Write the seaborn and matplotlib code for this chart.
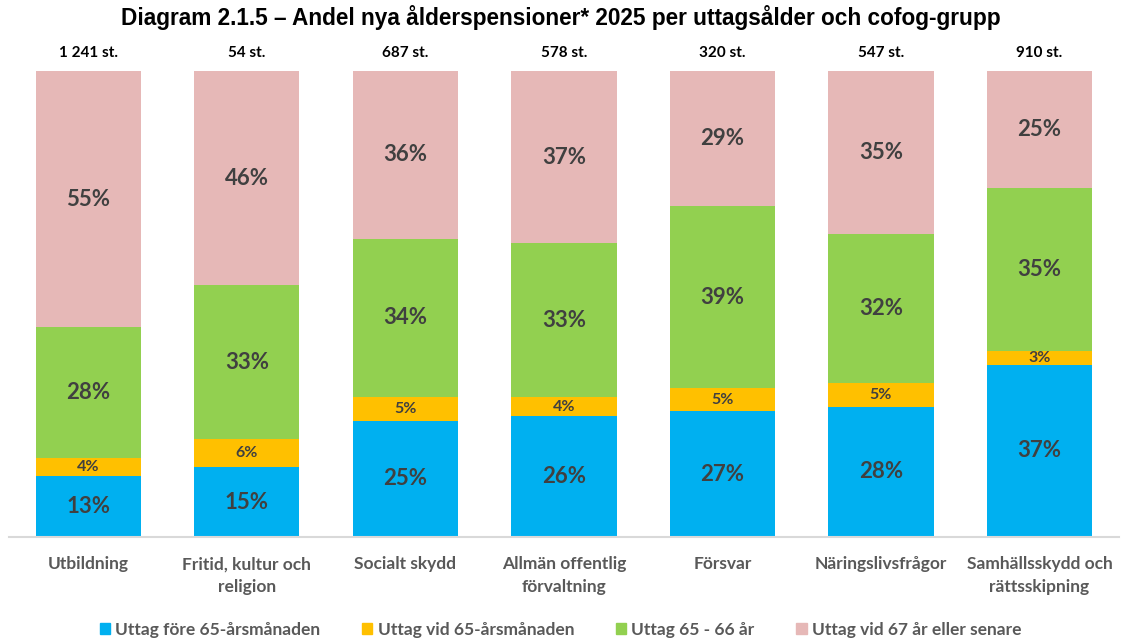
import numpy as np
import pandas as pd
import matplotlib.pyplot as plt
import seaborn as sns

# --- Data ---
CATEGORIES = ['Utbildning', 'Fritid, kultur och\nreligion', 'Socialt skydd',
              'Allmän offentlig\nförvaltning', 'Försvar', 'Näringslivsfrågor',
              'Samhällsskydd och\nrättsskipning']
COUNT_LABELS = ['1 241 st.', '54 st.', '687 st.', '578 st.', '320 st.', '547 st.', '910 st.']
FORE_65 = [13, 15, 25, 26, 27, 28, 37]
VID_65 = [4, 6, 5, 4, 5, 5, 3]
AR_65_66 = [28, 33, 34, 33, 39, 32, 35]
VID_67 = [55, 46, 36, 37, 29, 35, 25]

SERIES = ['Uttag före 65-årsmånaden', 'Uttag vid 65-årsmånaden',
          'Uttag 65 - 66 år', 'Uttag vid 67 år eller senare']
COLORS = ['#00B0F0', '#FFC000', '#92D050', '#E6B8B7']

TITLE = 'Diagram 2.1.5 – Andel nya ålderspensioner* 2025 per uttagsålder och cofog-grupp'


def build_frame():
    df = pd.DataFrame({
        'kategori': CATEGORIES,
        SERIES[0]: FORE_65,
        SERIES[1]: VID_65,
        SERIES[2]: AR_65_66,
        SERIES[3]: VID_67,
    })
    return df


def main():
    sns.set_theme(style='white')
    plt.rcParams['font.family'] = ['Lato', 'DejaVu Sans']

    df = build_frame()
    vals = df[SERIES].to_numpy() / 100.0
    cum = np.cumsum(vals, axis=1)

    fig = plt.figure(figsize=(11.21, 6.42), dpi=100)
    ax = fig.add_axes([0.008, 105 / 642, 0.99, (537 - 71) / 642])

    # stacked bars: draw the tallest cumulative first, then overlay
    for i in range(len(SERIES) - 1, -1, -1):
        sns.barplot(x=df['kategori'], y=cum[:, i], color=COLORS[i], saturation=1,
                    width=0.665, ax=ax, linewidth=0, order=CATEGORIES)

    # segment labels
    for j in range(len(CATEGORIES)):
        for i in range(len(SERIES)):
            v = vals[j, i]
            mid = cum[j, i] - v / 2
            small = i == 1
            ax.text(j, mid, f'{round(v * 100):d}%', ha='center', va='center',
                    fontsize=11.5 if small else 16, color='#404040',
                    fontweight='bold')
        ax.text(j, 1.039, COUNT_LABELS[j], ha='center', va='center',
                fontsize=11, fontweight='bold', color='black')

    ax.set_ylim(0, 1)
    ax.set_xlim(-0.5, len(CATEGORIES) - 0.5)
    ax.set_xlabel('')
    ax.set_ylabel('')
    ax.set_yticks([])
    ax.tick_params(axis='x', length=0, pad=14, labelsize=12.5, labelcolor='#595959')
    for lbl in ax.get_xticklabels():
        lbl.set_fontweight('bold')
        lbl.set_linespacing(1.5)
    for s in ['top', 'left', 'right']:
        ax.spines[s].set_visible(False)
    ax.spines['bottom'].set_color('#D9D9D9')
    ax.spines['bottom'].set_linewidth(1.5)

    fig.text(0.5, 1 - 18 / 642, TITLE, ha='center', va='center', fontsize=16.3,
             fontweight='bold', family=['Liberation Sans', 'DejaVu Sans'], color='black')

    handles = [plt.Rectangle((0, 0), 1, 1, color=c) for c in COLORS]
    leg = fig.legend(handles, SERIES, loc='center', bbox_to_anchor=(0.5, 1 - 630 / 642),
                     ncol=4, frameon=False, handlelength=0.6,
                     handleheight=0.6, handletextpad=0.3, columnspacing=2.4,
                     prop={'size': 12.5, 'weight': 'bold'})
    for t in leg.get_texts():
        t.set_color('#595959')

    fig.savefig('out.png', dpi=100)
    plt.close(fig)


if __name__ == '__main__':
    main()
